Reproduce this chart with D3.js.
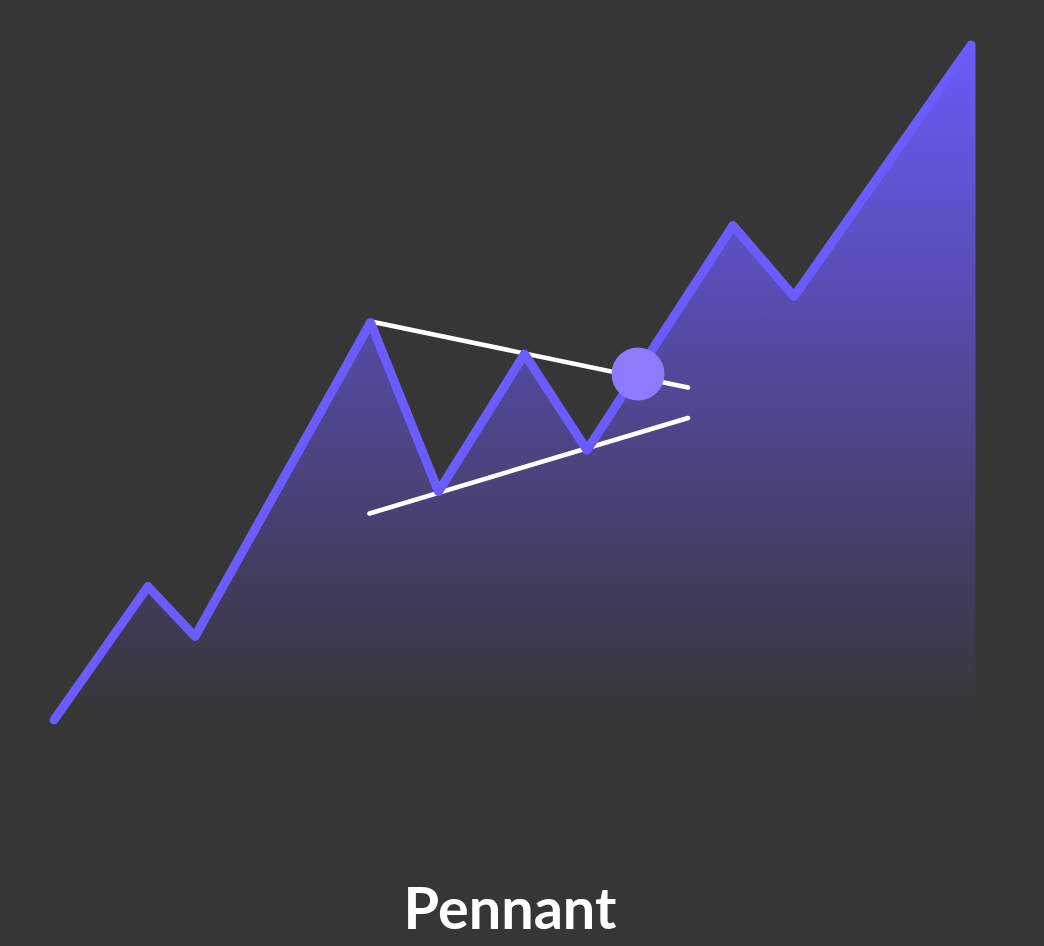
<!DOCTYPE html>
<html><head><meta charset="utf-8">
<script src="https://cdn.jsdelivr.net/npm/d3@7/dist/d3.min.js"></script>
<style>html,body{margin:0;padding:0;background:#363636;overflow:hidden}svg{display:block}</style>
</head><body><svg id="c" width="1044" height="946"></svg>
<script>
const title = "Pennant";
const times = [54,148,195,370.5,438.5,524.5,587,733,794,971];
const prices = [226,359.5,309.5,623.5,454.5,592,496,720.5,649.5,901];
const areaEdgeTime = 975.5;
const upperTrendTimes = [371,688];
const upperTrendPrices = [624.5,558.5];
const lowerTrendTimes = [369.5,688];
const lowerTrendPrices = [432.5,528];
const breakoutTime = [638];
const breakoutPrice = [572];
const basePrice = 226;

const W=1044,H=946;
const x=d3.scaleLinear().domain([0,W]).range([0,W]);
const y=d3.scaleLinear().domain([0,H]).range([H,0]);
const svg=d3.select("#c");
const defs=svg.append("defs");
const g=defs.append("linearGradient").attr("id","fade").attr("gradientUnits","userSpaceOnUse")
 .attr("x1",0).attr("x2",0).attr("y1",y(prices[9])).attr("y2",y(basePrice));
g.append("stop").attr("offset",0).attr("stop-color","#6c5cff").attr("stop-opacity",0.97);
g.append("stop").attr("offset",1).attr("stop-color","#6c5cff").attr("stop-opacity",0);

const pts=times.map((t,i)=>[t,prices[i]]);
const areaPts=[...pts,[areaEdgeTime,prices[9]]];
const area=d3.area().x(d=>x(d[0])).y1(d=>y(d[1])).y0(y(basePrice));
svg.append("path").attr("d",area(areaPts)).attr("fill","url(#fade)");

const line=d3.line().x(d=>x(d[0])).y(d=>y(d[1]));
const trend=(ts,ps)=>svg.append("path").attr("d",line(ts.map((t,i)=>[t,ps[i]]))).attr("fill","none")
 .attr("stroke","#fff").attr("stroke-width",4.6).attr("stroke-linecap","round");
trend(upperTrendTimes,upperTrendPrices);
trend(lowerTrendTimes,lowerTrendPrices);

svg.append("path").attr("d",line(pts)).attr("fill","none").attr("stroke","#6c5cff").attr("stroke-width",9)
 .attr("stroke-linejoin","round").attr("stroke-linecap","round");

svg.selectAll("circle.b").data(breakoutTime).join("circle").attr("class","b")
 .attr("cx",d=>x(d)).attr("cy",(d,i)=>y(breakoutPrice[i])).attr("r",26.5).attr("fill","#8c7cfb");

svg.append("text").attr("x",510).attr("y",929).attr("text-anchor","middle")
 .attr("font-family","Lato").attr("font-weight",700).attr("font-size",57.6).attr("fill","#fff").text(title);
</script></body></html>
